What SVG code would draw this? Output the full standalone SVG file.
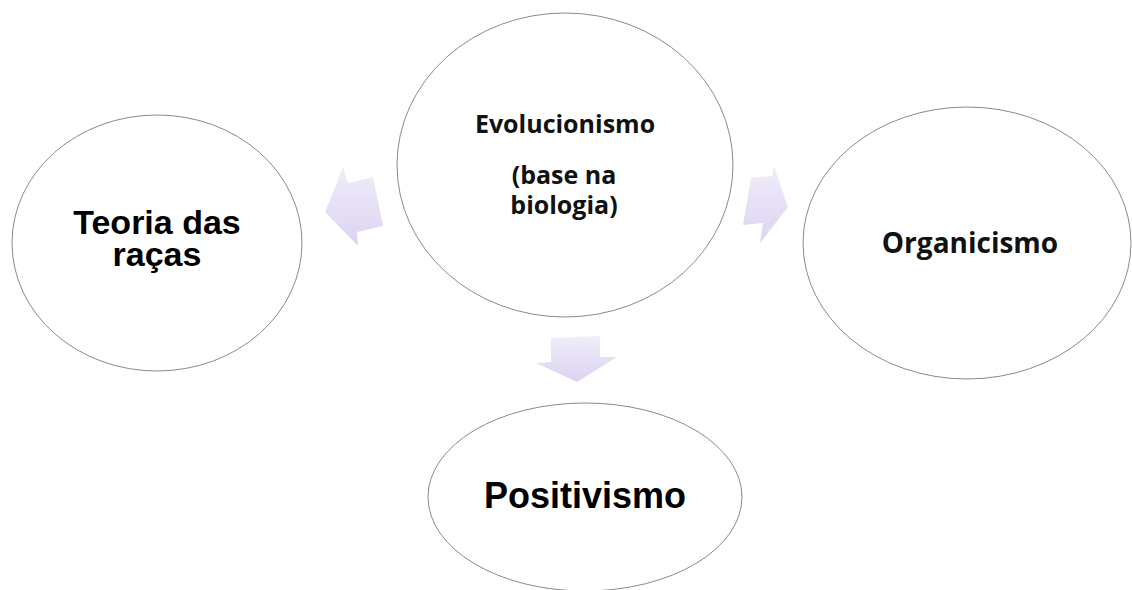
<svg xmlns="http://www.w3.org/2000/svg" width="1132" height="590" viewBox="0 0 1132 590">
<style>
.node{fill:#ffffff;stroke:#8a8a8a;stroke-width:1}
.arw{fill:url(#lav);stroke:none}
.cal{font-family:"Open Sans","Liberation Sans",sans-serif;font-weight:bold;fill:#111;text-anchor:middle}
.ari{font-family:"Liberation Sans",Arial,sans-serif;font-weight:bold;fill:#000;text-anchor:middle}
</style>
<defs>
<linearGradient id="lav" x1="0" y1="0" x2="0" y2="1">
<stop offset="0" stop-color="#f1edfa"/>
<stop offset="1" stop-color="#dcd3f2"/>
</linearGradient>
</defs>
<rect width="1132" height="590" fill="#ffffff"/>
<g id="connectors">
<polygon class="arw" points="325,212 343,167 348,183 373,177 383,226 357,232 358,246"/>
<polygon class="arw" points="743,225 751,178 772,176 774,166 788,207 760,243 763,223"/>
<polygon class="arw" points="551,338 600,336 600,357 617,357 577,382 536,363 551,362"/>
</g>
<g id="node-teoria">
<ellipse class="node" cx="157" cy="243" rx="145" ry="128"/>
<text class="ari" x="157" y="234" font-size="34">Teoria das</text>
<text class="ari" x="157" y="266" font-size="34">raças</text>
</g>
<g id="node-evolucionismo">
<ellipse class="node" cx="565" cy="165" rx="168" ry="152"/>
<text class="cal" x="565" y="133" font-size="25">Evolucionismo</text>
<text class="cal" x="564" y="184" font-size="25">(base na</text>
<text class="cal" x="564" y="214" font-size="25">biologia)</text>
</g>
<g id="node-organicismo">
<ellipse class="node" cx="967" cy="243" rx="164" ry="136"/>
<text class="cal" x="970" y="253" font-size="28">Organicismo</text>
</g>
<g id="node-positivismo">
<ellipse class="node" cx="585" cy="497" rx="157" ry="94"/>
<text class="ari" x="585" y="508" font-size="36">Positivismo</text>
</g>
</svg>
